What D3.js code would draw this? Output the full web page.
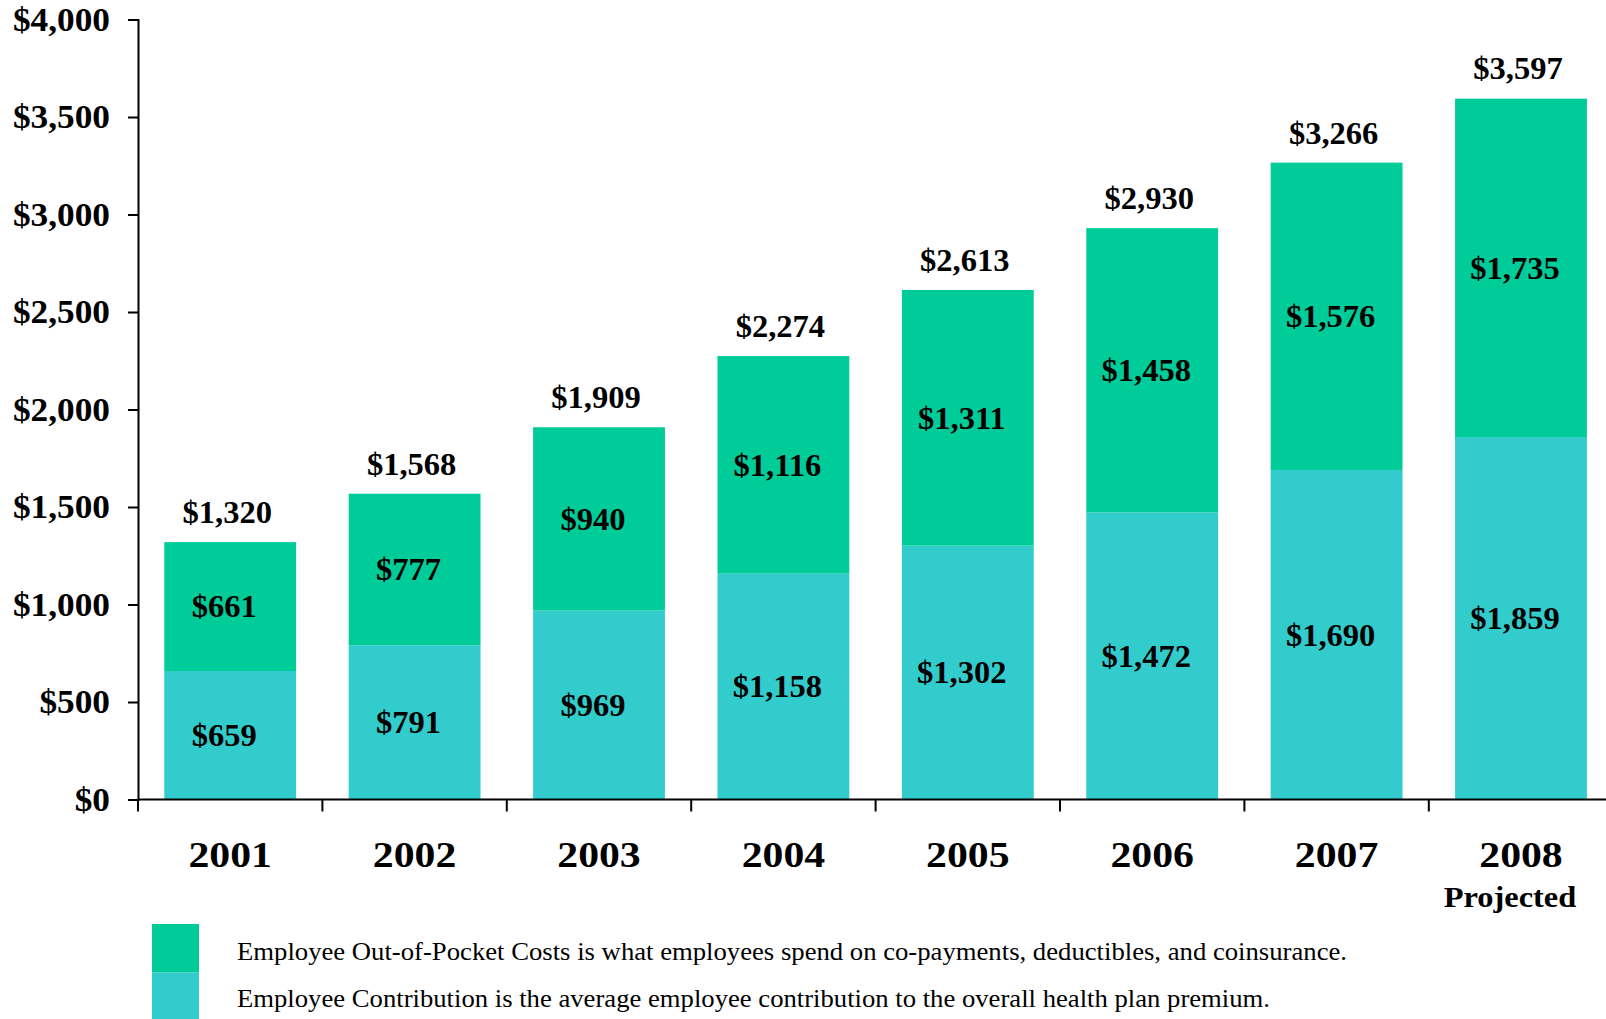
<!DOCTYPE html>
<html lang="en">
<head>
<meta charset="UTF-8" />
<title>Employee costs</title>
<script src="https://d3js.org/d3.v7.min.js"></script>
<style>
  body { margin: 0; background: #fff; }
  svg { font-family: "Liberation Serif", "Times New Roman", serif; }
  .lbl { font-weight: bold; fill: #000; }
  .axis path, .axis line { stroke: #000; stroke-width: 2; }
</style>
</head>
<body>
<script>
// data
var years = ["2001", "2002", "2003", "2004", "2005", "2006", "2007", "2008"];
var contribution = [659, 791, 969, 1158, 1302, 1472, 1690, 1859];
var outOfPocket = [661, 777, 940, 1116, 1311, 1458, 1576, 1735];
var totals = [1320, 1568, 1909, 2274, 2613, 2930, 3266, 3597];
var yTicks = [0, 500, 1000, 1500, 2000, 2500, 3000, 3500, 4000];
var legendText = [
  "Employee Out-of-Pocket Costs is what employees spend on co-payments, deductibles, and coinsurance.",
  "Employee Contribution is the average employee contribution to the overall health plan premium."
];
var colors = { oop: "#00CC99", contrib: "#33CCCC" };

var W = 1606, H = 1019;
var left = 138, step = 184.4, y0 = 799.5, yTop = 19.5;

var svg = d3.select("body").append("svg")
  .attr("width", W).attr("height", H);

var x = d3.scaleBand()
  .domain(years)
  .range([left, left + step * years.length])
  .paddingInner(0.285)
  .paddingOuter(0.1425);

var y = d3.scaleLinear().domain([0, 4000]).range([y0, yTop]);

var fmt = function(v) { return "$" + d3.format(",")(v); };
var cx = function(d) { return x(d) + x.bandwidth() / 2; };
// text in the original is a little wider than Liberation Serif, so stretch it
var place = function(px, py, sx) { return "translate(" + px + "," + py + ") scale(" + sx + ",1)"; };

var rows = years.map(function(yr, i) {
  return { year: yr, contrib: contribution[i], oop: outOfPocket[i], total: totals[i] };
});

// bars
var bars = svg.append("g");
bars.selectAll("rect.c").data(rows).enter().append("rect")
  .attr("x", function(d) { return x(d.year); })
  .attr("width", x.bandwidth())
  .attr("y", function(d) { return y(d.contrib); })
  .attr("height", function(d) { return y(0) - y(d.contrib); })
  .attr("fill", colors.contrib);
bars.selectAll("rect.o").data(rows).enter().append("rect")
  .attr("x", function(d) { return x(d.year); })
  .attr("width", x.bandwidth())
  .attr("y", function(d) { return y(d.contrib + d.oop); })
  .attr("height", function(d) { return y(d.contrib) - y(d.contrib + d.oop); })
  .attr("fill", colors.oop);

// segment labels (sit a little left of centre in the original)
var labels = svg.append("g").attr("class", "lbl").attr("text-anchor", "middle").style("font-size", "31px");
labels.selectAll("text.c").data(rows).enter().append("text")
  .attr("transform", function(d) { return place(cx(d.year) - 6, y(d.contrib / 2), 1.05); })
  .attr("dy", "0.35em")
  .text(function(d) { return fmt(d.contrib); });
labels.selectAll("text.o").data(rows).enter().append("text")
  .attr("transform", function(d) { return place(cx(d.year) - 6, y(d.contrib + d.oop / 2), 1.05); })
  .attr("dy", "0.35em")
  .text(function(d) { return fmt(d.oop); });
labels.selectAll("text.t").data(rows).enter().append("text")
  .attr("transform", function(d) { return place(cx(d.year) - 3, y(d.total) - 19, 1.05); })
  .text(function(d) { return fmt(d.total); });

// y axis
var yAxis = svg.append("g").attr("class", "axis")
  .attr("transform", "translate(" + left + ",0)")
  .call(d3.axisLeft(y).tickValues(yTicks).tickSize(10).tickFormat(fmt));
yAxis.selectAll("text").attr("class", "lbl")
  .attr("x", -28 / 1.07)
  .attr("transform", "scale(1.07,1)")
  .style("font-size", "33px").style("font-family", "Liberation Serif");

// x axis line + boundary ticks
var xg = svg.append("g").attr("class", "axis");
xg.append("line")
  .attr("x1", left).attr("x2", W).attr("y1", y0).attr("y2", y0);
xg.selectAll("line.tk").data(years).enter().append("line")
  .attr("x1", function(d) { return x(d) - x.step() * x.paddingInner() / 2; })
  .attr("x2", function(d) { return x(d) - x.step() * x.paddingInner() / 2; })
  .attr("y1", y0).attr("y2", y0 + 12);

svg.append("g").attr("class", "lbl").attr("text-anchor", "middle").style("font-size", "36px")
  .selectAll("text").data(years).enter().append("text")
  .attr("transform", function(d) { return place(cx(d), 867, 1.16); })
  .text(function(d) { return d; });

svg.append("text").attr("class", "lbl").attr("text-anchor", "middle").style("font-size", "30px")
  .attr("transform", place(cx("2008") - 11, 907, 1.08))
  .text("Projected");

// legend
var leg = svg.append("g");
var legItems = [
  { color: colors.oop, text: legendText[0], len: 1110 },
  { color: colors.contrib, text: legendText[1], len: 1033 }
];
leg.selectAll("rect").data(legItems).enter().append("rect")
  .attr("x", 152).attr("y", function(d, i) { return 924 + i * 48.5; })
  .attr("width", 47).attr("height", 48.5)
  .attr("fill", function(d) { return d.color; });
leg.selectAll("text").data(legItems).enter().append("text")
  .attr("x", 237).attr("y", function(d, i) { return 960 + i * 47; })
  .style("font-size", "26px")
  .attr("textLength", function(d) { return d.len; })
  .attr("lengthAdjust", "spacingAndGlyphs")
  .text(function(d) { return d.text; });
</script>
</body>
</html>
